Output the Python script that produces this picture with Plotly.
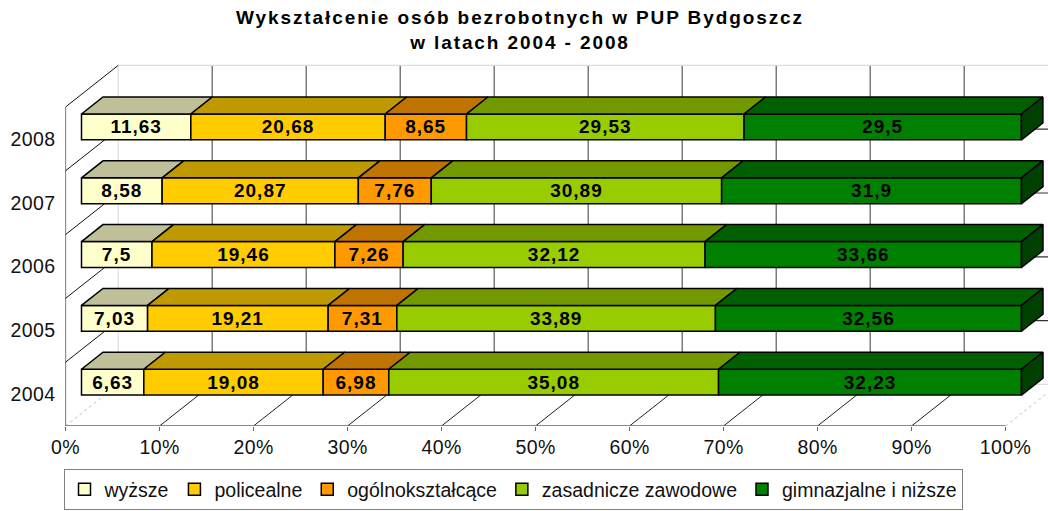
import plotly.graph_objects as go

years = ["2004", "2005", "2006", "2007", "2008"]
series_names = ["wyższe", "policealne", "ogólnokształcące", "zasadnicze zawodowe", "gimnazjalne i niższe"]
wyzsze = [6.63, 7.03, 7.5, 8.58, 11.63]
policealne = [19.08, 19.21, 19.46, 20.87, 20.68]
ogolno = [6.98, 7.31, 7.26, 7.76, 8.65]
zasadnicze = [35.08, 33.89, 32.12, 30.89, 29.53]
gimnazjalne = [32.23, 32.56, 33.66, 31.9, 29.5]
front_colors = ["#FFFFCC", "#FFCC00", "#FF9900", "#99CC00", "#008000"]
top_colors = ["#BFBF99", "#BF9900", "#BF7300", "#739900", "#006000"]
side_color = "#004000"
x_ticks = [0, 10, 20, 30, 40, 50, 60, 70, 80, 90, 100]

W, H = 1048, 511
X0, Y0 = 65.5, 426
PX_X, PX_Y = 9.4, 63.8
WALL_DX = 52.7 / PX_X
WALL_DY = 41.6 / PX_Y
BAR_DX = 16 / PX_X
BAR_DEPTH_X = 21.5 / PX_X
BAR_DEPTH_Y = 17 / PX_Y
BAR_BOTTOM = 0.485
BAR_H = 0.405
OUT = 1.5
DARK = "#5a5a5a"
LIGHT = "#dcdcdc"
FONT = "Liberation Sans"

all_series = [wyzsze, policealne, ogolno, zasadnicze, gimnazjalne]
fig = go.Figure()

# front faces
cum = [0.0] * len(years)
lefts = []
for name, vals, col in zip(series_names, all_series, front_colors):
    lefts.append(list(cum))
    fig.add_trace(go.Bar(
        orientation="h", name=name, x=vals,
        base=[c + BAR_DX for c in cum],
        y=[k + BAR_BOTTOM + BAR_H / 2 for k in range(len(years))],
        width=BAR_H,
        marker=dict(color=col, line=dict(color="black", width=OUT)),
        text=[str(v).replace(".", ",") for v in vals],
        textposition="inside", insidetextanchor="middle", textangle=0,
        constraintext="none",
        textfont=dict(family=FONT, size=19, color="black", weight=700),
        hoverinfo="skip",
    ))
    cum = [c + v for c, v in zip(cum, vals)]

# top faces
for vals, left, col in zip(all_series, lefts, top_colors):
    xs, ys = [], []
    for k, (v, l) in enumerate(zip(vals, left)):
        a = l + BAR_DX
        yy = k + BAR_BOTTOM + BAR_H
        xs += [a, a + v, a + v + BAR_DEPTH_X, a + BAR_DEPTH_X, a, None]
        ys += [yy, yy, yy + BAR_DEPTH_Y, yy + BAR_DEPTH_Y, yy, None]
    fig.add_trace(go.Scatter(x=xs, y=ys, mode="lines", fill="toself", fillcolor=col,
                             line=dict(color="black", width=OUT), showlegend=False,
                             hoverinfo="skip", cliponaxis=False))

# side face of the whole stack
xs, ys = [], []
for k in range(len(years)):
    e = cum[k] + BAR_DX
    b = k + BAR_BOTTOM
    xs += [e, e + BAR_DEPTH_X, e + BAR_DEPTH_X, e, e, None]
    ys += [b, b + BAR_DEPTH_Y, b + BAR_H + BAR_DEPTH_Y, b + BAR_H, b, None]
fig.add_trace(go.Scatter(x=xs, y=ys, mode="lines", fill="toself", fillcolor=side_color,
                         line=dict(color="black", width=OUT), showlegend=False,
                         hoverinfo="skip", cliponaxis=False))

# axis lines and the category tick marks
n = len(years)
tick_out = 5 / PX_X
fig.add_trace(go.Scatter(x=[-tick_out, 100], y=[0, 0], mode="lines",
                         line=dict(color="#666666", width=1.3), showlegend=False,
                         hoverinfo="skip", cliponaxis=False))
yx, yy = [0, 0, None], [0, n, None]
for k in range(1, n + 1):
    yx += [-tick_out, 0, None]
    yy += [k, k, None]
fig.add_trace(go.Scatter(x=yx, y=yy, mode="lines",
                         line=dict(color="#222222", width=1.2), showlegend=False,
                         hoverinfo="skip", cliponaxis=False))

# walls and floor (behind everything)
shapes = []
def seg(x0, y0, x1, y1, color, width=1, dash="solid"):
    shapes.append(dict(type="line", xref="x", yref="y", x0=x0, y0=y0, x1=x1, y1=y1,
                       layer="below", line=dict(color=color, width=width, dash=dash)))

for t in x_ticks:
    edge = t in (0, 100)
    seg(t + WALL_DX, WALL_DY, t + WALL_DX, n + WALL_DY, LIGHT if edge else DARK, 1.2)
    seg(t, 0, t + WALL_DX, WALL_DY, LIGHT if edge else "#222222", 1.5 if edge else 1,
        "dot" if edge else "solid")
for k in range(n + 1):
    edge = k in (0, n)
    seg(WALL_DX, k + WALL_DY, 100 + WALL_DX, k + WALL_DY, LIGHT if edge else "#333333", 1.2)
    if k > 0:
        seg(0, k, WALL_DX, k + WALL_DY, "#111111", 1)

fig.update_layout(
    width=W, height=H,
    margin=dict(l=0, r=0, t=0, b=0, autoexpand=False),
    paper_bgcolor="white", plot_bgcolor="white",
    barmode="overlay", shapes=shapes,
    font=dict(family=FONT, color="black"),
    title=dict(
        text="Wykształcenie osób bezrobotnych w PUP Bydgoszcz<br>w latach 2004 - 2008",
        font=dict(family=FONT, size=19, color="black", weight=700),
        x=520 / W, xanchor="center", xref="container",
        y=1 - 24 / H, yanchor="top", yref="container",
        automargin=False,
    ),
    xaxis=dict(
        automargin=False,
        domain=[X0 / W, 1], range=[0, (W - X0) / PX_X],
        tickvals=x_ticks, ticktext=[f"{t}%" for t in x_ticks],
        ticks="outside", ticklen=4, tickcolor="#666666", tickwidth=1,
        showgrid=False, zeroline=False, showline=False,
        tickfont=dict(family=FONT, size=19.5, color="#111111"),
    ),
    yaxis=dict(
        automargin=False,
        domain=[(H - Y0) / H, 1], range=[0, Y0 / PX_Y],
        tickvals=[k + 0.5 for k in range(n)], ticktext=years,
        ticks="outside", ticklen=5, tickcolor="rgba(0,0,0,0)",
        showgrid=False, zeroline=False, showline=False,
        tickfont=dict(family=FONT, size=19.5, color="#111111"),
    ),
    legend=dict(
        orientation="h", x=63.5 / W, xanchor="left", y=1 - 510 / H, yanchor="bottom",
        bordercolor="#808080", borderwidth=1, bgcolor="white",
        font=dict(family=FONT, size=19.5, color="#111111"),
        traceorder="normal",
    ),
)

css = """
document.body.style.margin='0';
var st=document.createElement('style');
st.textContent='.gtitle{letter-spacing:1.9px}.bartext{letter-spacing:1px}.xtick text,.ytick text{letter-spacing:.4px}';
document.head.appendChild(st);
"""
fig.write_html("out.html", config={"displayModeBar": False}, post_script=css)
